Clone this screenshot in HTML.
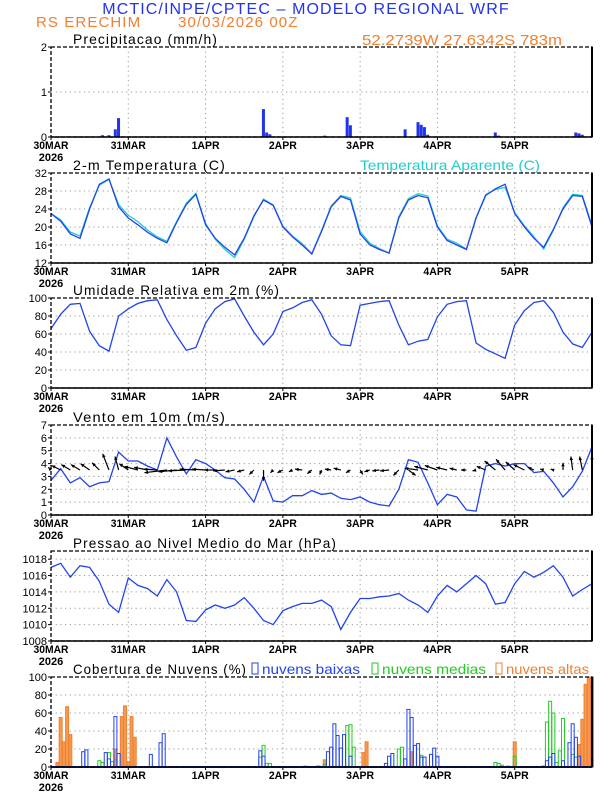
<!DOCTYPE html>
<html><head><meta charset="utf-8"><style>
body{margin:0;background:#fff;}
svg{display:block;font-family:"Liberation Sans",sans-serif;}
.tick{font-size:11px;fill:#000;}
.ttl{font-size:14px;fill:#000;letter-spacing:1.1px;}
.sp{letter-spacing:1.1px;}
</style></head><body>
<svg id="chart" width="612" height="792" viewBox="0 0 612 792" xmlns="http://www.w3.org/2000/svg">
<text x="306" y="14" text-anchor="middle" font-size="16" fill="#2233ee" class="sp">MCTIC/INPE/CPTEC – MODELO REGIONAL WRF</text>
<text x="36" y="27" font-size="15" fill="#f08030" class="sp">RS ERECHIM</text>
<text x="178" y="27" font-size="15" fill="#f08030" class="sp">30/03/2026 00Z</text>
<text x="362" y="45" font-size="15" fill="#f08030" textLength="200" lengthAdjust="spacingAndGlyphs">52.2739W 27.6342S 783m</text>
<g id="g"></g>
</svg>
<script>
const hours3 = [];
for (let h = 0; h <= 168; h += 3) hours3.push(h);
const dayLabels = ["30MAR","31MAR","1APR","2APR","3APR","4APR","5APR"];
const tempVals = [23,21.3,18.5,17.5,24,29.5,30.7,24.5,22,20.5,18.8,17.5,16.5,21,25,27.3,20.5,17.5,15.5,13.8,17.5,22.5,26,24.8,20,17.8,16,14,19,24.5,26.8,26,18.5,16,15,14.2,22,26,27,26.5,20,17,16,15,22,27,28.5,29.5,23,20,17.5,15.5,19.5,24,27,26.8,20];
const appTempVals = [23,21.6,18.9,18,24.3,29.3,30.6,25,22.6,21.2,19.3,17.8,16.8,21.2,25.3,27.5,20.8,17.3,15,13.2,17.3,22.3,26.2,24.9,20.2,18,16.3,14.1,19.2,24.7,27,26.4,19,16.4,15.2,14.2,22.3,26.3,27.4,26.9,20.3,17.3,16.4,15.1,22.1,27.2,28.3,28.8,23.2,20.3,17.8,15.1,19.3,24.3,27.3,27,20.4];
const rhVals = [66,82,93,94,63,47,41,80,88,94,97,98,76,58,42,45,72,88,96,99,80,62,48,60,85,89,95,98,82,58,48,47,92,94,96,97,70,48,52,54,79,93,96,97,50,43,38,33,70,86,95,97,84,62,49,45,62];
const windVals = [2.7,3.6,2.5,2.9,2.2,2.5,2.6,4.9,4.2,4.2,3.8,3.5,6,4.5,3.2,4.3,4.0,3.5,2.9,2.8,2,1,3,1.1,1.0,1.5,1.5,1.9,1.6,1.7,1.3,1.2,1.4,1.0,0.8,0.7,2.0,4.3,4.1,2.5,0.8,1.6,1.4,0.4,0.3,3.8,4.0,3.8,4.0,4.0,3.3,3.4,2.5,1.4,2.2,3.4,5.3];
const windU = [-0.3,-1,-1,-1,-1,-0.8,-0.7,-0.4,-1,-1.5,-1.5,-1.5,-2.5,-2,-2,-1.8,-1.5,-1.2,-1.3,-1,-0.8,-0.5,0,-0.3,-0.6,-0.4,-0.8,-0.5,-0.2,-0.7,-0.8,-0.5,0.3,-0.6,-0.8,-1,-0.6,0.8,-1.5,-1.5,-1.4,-1.2,-0.8,-0.6,-0.4,-1,-1.2,-1,-1,-1.2,-0.7,-0.4,-0.3,0,-0.2,-0.3,0];
const windV = [0.3,0.5,0.6,0.6,0.7,0.8,1.8,1.5,0.7,0.4,0.3,0.1,-0.3,-0.2,-0.1,0.1,0.1,0,-0.1,-0.2,-0.2,-0.5,-1.2,-0.3,-0.3,-0.2,0.1,-0.4,-0.5,0.1,0.2,-0.3,-0.5,-0.2,-0.1,-0.1,-0.6,-0.6,0.2,0.4,0.5,0.3,0.2,0,-0.1,0.4,1,1.2,0.9,0.6,0.3,0.1,0.1,0.8,1.5,1.5,1.6];
const presVals = [1017,1017.5,1015.8,1017.2,1017,1015.3,1012.5,1011.5,1015.7,1014.8,1014.4,1013.5,1015.5,1014,1010.5,1010.4,1011.8,1012.4,1012,1012.4,1013.3,1012,1010.5,1010,1011.7,1012.2,1012.6,1012.6,1013,1012.2,1009.4,1011.5,1013.2,1013.2,1013.4,1013.5,1013.8,1013,1012.4,1011.5,1013.5,1014.8,1014,1015,1016,1015,1012.5,1012.7,1015,1016.5,1015.8,1016.4,1017.2,1015.8,1013.5,1014.3,1015];
const precipHours = [16,18,20,21,66,67,68,85,92,93,110,114,115,116,117,138,139,163,164,165];
const precipVals = [0.04,0.04,0.17,0.42,0.62,0.1,0.06,0.03,0.44,0.26,0.17,0.33,0.27,0.22,0.05,0.1,0.03,0.1,0.08,0.05];
const lowHours = [10,11,17,18,20,21,31,34,35,65,66,83,86,87,88,89,90,91,93,104,105,106,110,111,112,113,114,115,116,118,119,120,153,154,155,156,159,161,162,163,164];
const lowVals = [17,19,16,9,56,15,14,27,37,18,12,1,17,22,48,35,21,36,12,4,12,15,9,64,55,24,26,11,11,14,21,12,1,7,11,15,7,27,48,33,12];
const midHours = [15,16,18,19,20,65,66,67,68,79,85,92,93,94,108,109,115,138,139,140,142,144,154,155,156,157,158,159,162,163];
const midVals = [7,5,16,6,8,11,24,4,4,1,3,46,47,22,20,22,13,5,4,2,1,12,50,73,60,5,18,54,14,11];
const highHours = [2,3,4,5,6,20,22,23,24,25,26,85,97,98,112,144,164,165,166,167,168];
const highVals = [5,55,28,67,36,20,56,68,6,56,33,8,16,28,17,28,25,53,92,100,100];

const NS = "http://www.w3.org/2000/svg";
const G = document.getElementById('g');
const X0 = 51, X1 = 592;
function xs(h){ return X0 + h * (X1 - X0) / 168; }
function mk(tag, attrs, parent){
  const e = document.createElementNS(NS, tag);
  for (const k in attrs) e.setAttribute(k, attrs[k]);
  (parent || G).appendChild(e);
  return e;
}
function panel(name, top, bot, ymin, ymax, ticks, title, tlen){
  const g = mk('g', {});
  
  
  const ys = v => bot - (v - ymin) / (ymax - ymin) * (bot - top);
  for (let d = 1; d < 7; d++) {
    const l = mk('line', {x1: xs(d*24), x2: xs(d*24), y1: top, y2: bot, stroke: '#999', 'stroke-width': 1, 'stroke-dasharray': '1.2,3.5'}, g);
    
    
  }
  ticks.forEach(t => {
    if (t > ymin && t < ymax) {
      const l = mk('line', {x1: X0, x2: X1, y1: ys(t), y2: ys(t), stroke: '#999', 'stroke-width': 1, 'stroke-dasharray': '1.2,3.5'}, g);
      
      
    }
    const tx = mk('text', {x: X0 - 4, y: ys(t) + 4, 'text-anchor': 'end', class: 'tick'}, g);
    tx.textContent = t;
    
    
    mk('line', {x1: X0 - 3, x2: X0, y1: ys(t), y2: ys(t), stroke: '#000'}, g);
  });
  dayLabels.forEach((d, i) => {
    const tx = mk('text', {x: xs(i*24), y: bot + 12, 'text-anchor': 'middle', class: 'tick', 'font-weight': 'bold', 'textLength': d.length > 4 ? (d.length*7) : 28, 'lengthAdjust': 'spacingAndGlyphs'}, g);
    tx.textContent = d;
    
    
    mk('line', {x1: xs(i*24), x2: xs(i*24), y1: bot, y2: bot + 3, stroke: '#000'}, g);
  });
  const yr = mk('text', {x: 51, y: bot + 24, 'text-anchor': 'middle', class: 'tick', 'font-weight': 'bold'}, g);
  yr.textContent = '2026';
  
  
  const ta = {x: 73, y: top - 3, class: 'ttl'};
  if (tlen) { ta.textLength = tlen; ta.lengthAdjust = 'spacingAndGlyphs'; }
  const tt = mk('text', ta, g);
  tt.textContent = title;
  
  
  return {g, ys, top, bot};
}
function frame(p){
  const r = mk('rect', {x: X0, y: p.top, width: X1 - X0, height: p.bot - p.top, fill: 'none', stroke: '#000', 'stroke-width': 1.3, 'stroke-dasharray': '4,2'}, p.g);
  
  
  mk('line', {x1: X1, x2: X1, y1: p.top, y2: p.bot, stroke: '#000', 'stroke-width': 2}, p.g);
  mk('line', {x1: X0, x2: X1, y1: p.bot, y2: p.bot, stroke: '#000', 'stroke-width': 1.5}, p.g);
}
function line(p, hs, vals, color, name){
  const d = vals.map((v, i) => (i ? 'L' : 'M') + xs(hs[i]).toFixed(1) + ',' + p.ys(v).toFixed(1)).join(' ');
  const e = mk('path', {d, fill: 'none', stroke: color, 'stroke-width': 1.3}, p.g);
  
  
}

const p1 = panel('precipitation', 47, 137, 0, 2, [0,1,2], 'Precipitacao (mm/h)', 145);
precipHours.forEach((h, i) => {
  const y = p1.ys(precipVals[i]);
  const r = mk('rect', {x: xs(h) - 1.6, y, width: 3, height: p1.bot - y, fill: '#2233ee'}, p1.g);
  
  
});
frame(p1);

const p2 = panel('temperature', 173, 263, 12, 32, [12,16,20,24,28,32], '2-m Temperatura (C)', 153);
line(p2, hours3, appTempVals, '#22cccc', 'apparent-temperature-line');
line(p2, hours3, tempVals, '#2244ee', 'temperature-line');
const lt = mk('text', {x: 360, y: 170, 'font-size': 14, fill: '#22cccc', textLength: 180, lengthAdjust: 'spacingAndGlyphs'}, p2.g);
lt.textContent = 'Temperatura Aparente (C)';


frame(p2);

const p3 = panel('humidity', 298, 388, 0, 100, [0,20,40,60,80,100], 'Umidade Relativa em 2m (%)', 207);
line(p3, hours3, rhVals, '#2244ee', 'humidity-line');
frame(p3);

const p4 = panel('wind', 425, 515, 0, 7, [0,1,2,3,4,5,6,7], 'Vento em 10m (m/s)', 153);
line(p4, hours3, windVals, '#2244ee', 'wind-speed-line');
const by = p4.ys(3.5);
windU.forEach((u, i) => {
  const x0 = xs(hours3[i]), k = 9;
  const x1 = x0 + u*k, y1 = by - windV[i]*k;
  const a = mk('line', {x1: x0, y1: by, x2: x1, y2: y1, stroke: '#000', 'stroke-width': 1.2}, p4.g);
  
  
  const ang = Math.atan2(y1 - by, x1 - x0), L = 4;
  const hp = `${x1},${y1} ${x1 - L*Math.cos(ang-0.45)},${y1 - L*Math.sin(ang-0.45)} ${x1 - L*Math.cos(ang+0.45)},${y1 - L*Math.sin(ang+0.45)}`;
  const hd = mk('polygon', {points: hp, fill: '#000'}, p4.g);
  
  
});
frame(p4);

const p5 = panel('pressure', 551, 641, 1008, 1019, [1008,1010,1012,1014,1016,1018], 'Pressao ao Nivel Medio do Mar (hPa)', 264);
line(p5, hours3, presVals, '#2244ee', 'pressure-line');
frame(p5);

const p6 = panel('clouds', 677, 767, 0, 100, [0,20,40,60,80,100], 'Cobertura de Nuvens (%)', 174);
function cbars(hs, vals, color, name){
  hs.forEach((h, i) => {
    const y = p6.ys(vals[i]);
    const r = mk('rect', {x: xs(h) - 1.5, y, width: 3, height: p6.bot - y, fill: 'none', stroke: color, 'stroke-width': 1}, p6.g);
    
    
  });
}
function cfill(hs, vals, color){
  hs.forEach((h, i) => {
    const y = p6.ys(vals[i]);
    mk('rect', {x: xs(h) - 1.5, y, width: 3, height: p6.bot - y, fill: color}, p6.g);
  });
}
cfill(highHours, highVals, '#f59a50');
cbars(highHours, highVals, '#f08030', 'high-cloud-bar');
cbars(midHours, midVals, '#22cc22', 'mid-cloud-bar');
cbars(lowHours, lowVals, '#2244ee', 'low-cloud-bar');
mk('line', {x1: X0, x2: X1, y1: p6.bot, y2: p6.bot, stroke: '#2244ee', 'stroke-width': 2}, p6.g);
[[252,'nuvens baixas','#2244ee','low',98],[372,'nuvens medias','#22cc22','mid',104],[496,'nuvens altas','#f08030','high',83]].forEach(l => {
  const r = mk('rect', {x: l[0], y: 663, width: 6, height: 11, fill: 'none', stroke: l[2], 'stroke-width': 1}, p6.g);
  
  
  const t = mk('text', {x: l[0] + 10, y: 674, 'font-size': 14, fill: l[2], textLength: l[4], lengthAdjust: 'spacingAndGlyphs'}, p6.g);
  t.textContent = l[1];
  
  
});
frame(p6);
</script>
</body></html>
